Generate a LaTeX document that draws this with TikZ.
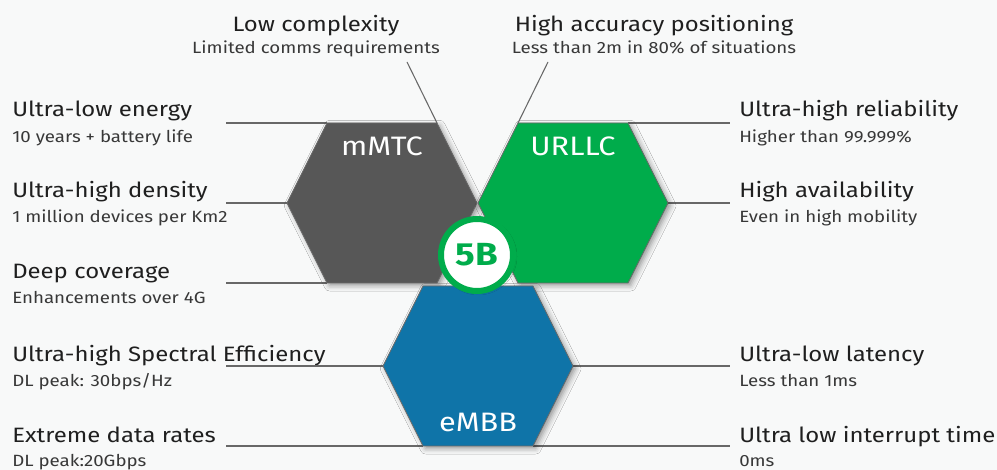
\documentclass[tikz,border=0pt]{standalone}
\usepackage{fontspec}
\setmainfont[FakeStretch=1.15]{Fira Sans}
\usetikzlibrary{shadows.blur}

\definecolor{mmtcgray}{HTML}{575757}
\definecolor{urllcgreen}{HTML}{00AC4B}
\definecolor{embbblue}{HTML}{0F74A8}
\definecolor{leadgray}{HTML}{686868}
\definecolor{bggray}{HTML}{F8F9F9}

\tikzset{
  hexa/.style={draw=leadgray, line width=0.6pt,
    blur shadow={shadow xshift=2pt, shadow yshift=-2pt, shadow blur radius=4pt, shadow opacity=40}},
  lead/.style={draw=leadgray, line width=1.5pt},
  head/.style={inner sep=0pt, font=\fontsize{15.6}{18}\selectfont, text=black!88},
  sub/.style={inner sep=0pt, font=\fontsize{12.2}{14}\selectfont, text=black!78},
  hexlabel/.style={inner sep=0pt, anchor=base, text=white, font=\fontsize{20}{24}\selectfont},
}

\begin{document}
\begin{tikzpicture}[x=0.75pt, y=-0.75pt]
\useasboundingbox[fill=bggray] (0,0) rectangle (997,470);

% hexagon corners
\foreach \nm/\cx/\cy in {mmtc/382/203, urllc/573/203, embb/478/366}{
  \coordinate (\nm-e)  at (\cx+95,\cy);
  \coordinate (\nm-ne) at (\cx+55,\cy-80);
  \coordinate (\nm-nw) at (\cx-55,\cy-80);
  \coordinate (\nm-w)  at (\cx-95,\cy);
  \coordinate (\nm-sw) at (\cx-55,\cy+80);
  \coordinate (\nm-se) at (\cx+55,\cy+80);
}

% left texts
\node[head, anchor=base west] (energy)     at (12,117) {Ultra-low energy};
\node[sub,  anchor=base west] (energysub)  at (12,143) {10 years + battery life};
\node[head, anchor=base west] (density)    at (12,198) {Ultra-high density};
\node[sub,  anchor=base west] (densitysub) at (12,223) {1 million devices per Km2};
\node[head, anchor=base west] (coverage)   at (12,279) {Deep coverage};
\node[sub,  anchor=base west] (coveragesub) at (12,304) {Enhancements over 4G};
\node[head, anchor=base west] (spectral)   at (12,362) {Ultra-high Spectral Efficiency};
\node[sub,  anchor=base west] (spectralsub) at (12,387) {DL peak: 30bps/Hz};
\node[head, anchor=base west] (rates)      at (12,443) {Extreme data rates};
\node[sub,  anchor=base west] (ratessub)   at (12,466) {DL peak:20Gbps};

% right texts
\node[head, anchor=base west] (reliab)     at (739,117) {Ultra-high reliability};
\node[sub,  anchor=base west] (reliabsub)  at (739,143) {Higher than 99.999\%};
\node[head, anchor=base west] (avail)      at (739,198) {High availability};
\node[sub,  anchor=base west] (availsub)   at (739,223) {Even in high mobility};
\node[head, anchor=base west] (latency)    at (739,362) {Ultra-low latency};
\node[sub,  anchor=base west] (latencysub) at (739,387) {Less than 1ms};
\node[head, anchor=base west] (interrupt)  at (739,443) {Ultra low interrupt time};
\node[sub,  anchor=base west] (interruptsub) at (739,467) {0ms};

% top texts
\node[head, anchor=base] (complex)     at (316,32) {Low complexity};
\node[sub,  anchor=base] (complexsub)  at (316,54) {Limited comms requirements};
\node[head, anchor=base] (position)    at (654,32) {High accuracy positioning};
\node[sub,  anchor=base] (positionsub) at (654,54) {Less than 2m in 80\% of situations};

% leader lines
\coordinate (l1) at (226,123);
\coordinate (l2) at (226,203);
\coordinate (l3) at (226,283);
\coordinate (l4) at (226,366);
\coordinate (l5) at (226,446);
\coordinate (r1) at (730,123);
\coordinate (r2) at (730,203);
\coordinate (r4) at (730,366);
\coordinate (r5) at (730,446);
\coordinate (t1) at (407,62);
\coordinate (t2) at (548,62);

\draw[lead] (l1) -- (mmtc-nw);
\draw[lead] (l2) -- (mmtc-w);
\draw[lead] (l3) -- (mmtc-sw);
\draw[lead] (l4) -- (embb-w);
\draw[lead] (l5) -- (embb-sw);
\draw[lead] (urllc-ne) -- (r1);
\draw[lead] (urllc-e) -- (r2);
\draw[lead] (embb-e) -- (r4);
\draw[lead] (embb-se) -- (r5);
\draw[leadgray, line width=0.8pt] (t1) -- (mmtc-ne);
\draw[leadgray, line width=0.8pt] (t2) -- (urllc-nw);

% hexagons
\foreach \nm/\col in {mmtc/mmtcgray, urllc/urllcgreen, embb/embbblue}{
  \fill[hexa, fill=\col] (\nm-e) -- (\nm-ne) -- (\nm-nw) -- (\nm-w) -- (\nm-sw) -- (\nm-se) -- cycle;
}
\node[hexlabel] (mmtc)  at (382,156) {mMTC};
\node[hexlabel] (urllc) at (573,156) {URLLC};
\node[hexlabel] (embb)  at (478,432) {eMBB};

% center badge
\node[circle, fill=white, draw=urllcgreen, line width=4.5pt, minimum size=54pt, inner sep=0pt,
  text=urllcgreen, font=\fontsize{24}{28}\selectfont\bfseries,
  blur shadow={shadow xshift=1pt, shadow yshift=-1pt, shadow blur radius=2pt, shadow opacity=30}]
  (badge) at (477,255) {5B};
\end{tikzpicture}
\end{document}
